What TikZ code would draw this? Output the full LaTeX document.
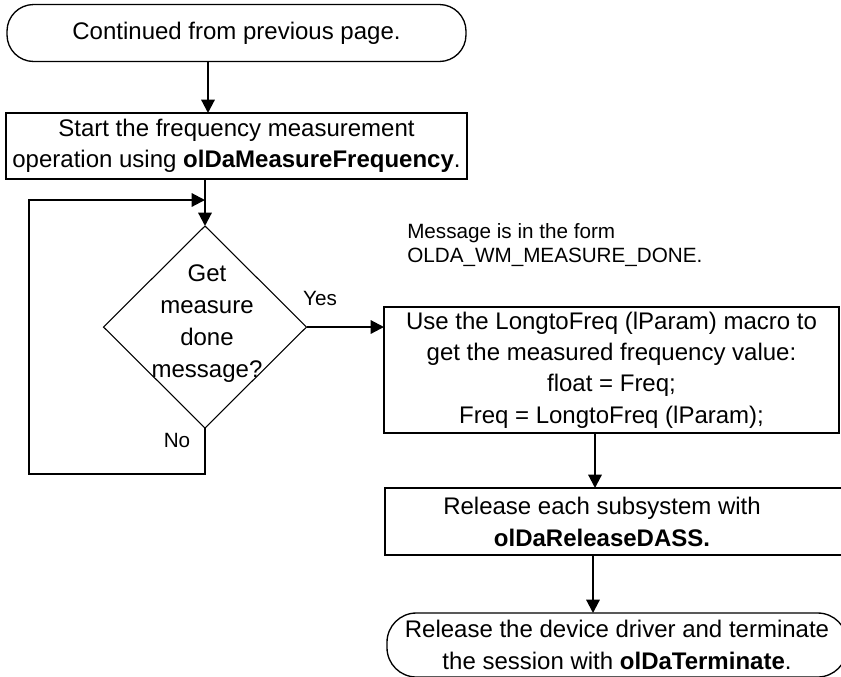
\documentclass[tikz,border=0pt]{standalone}
\usepackage{fontspec}
\setmainfont{Liberation Sans}
\usetikzlibrary{shapes.geometric,arrows.meta}
\begin{document}
\begin{tikzpicture}[x=0.75pt,y=-0.75pt,
  arr/.style={line width=1.6pt,-{Triangle[width=10pt,length=10pt]}},
  proc/.style={draw, line width=1.6pt, rectangle, inner sep=0pt, outer sep=0pt, align=center, font=\fontsize{18}{23.5}\selectfont},
  term/.style={draw, line width=1pt, rectangle, rounded corners=20pt, inner sep=0pt, outer sep=0pt, align=center, font=\fontsize{18}{24}\selectfont},
  dec/.style={draw, diamond, line width=0.8pt, inner sep=0pt, outer sep=0pt},
  txt/.style={inner sep=0pt, align=center, font=\fontsize{18}{24}\selectfont},
  lab/.style={inner sep=0pt, font=\fontsize{15.5}{18}\selectfont}]
\clip (0,0) rectangle (841,676);
\node[term, minimum width=344.25pt, minimum height=42.75pt] (t1) at (236.5,33) {Continued from previous page.};
\node[proc, minimum width=345.75pt, minimum height=49.5pt] (b2) at (236.5,146) {Start the frequency measurement\\operation using \textbf{olDaMeasureFrequency}.};
\node[dec, minimum width=152.25pt, minimum height=151.5pt] (d) at (205,327) {};
\node[txt] (dt) at (207,324) {Get\\measure\\done\\message?};
\node[proc, minimum width=341.25pt, minimum height=94.5pt] (b3) at (611.5,370) {Use the LongtoFreq (lParam) macro to\\get the measured frequency value:\\float = Freq;\\Freq = LongtoFreq (lParam);};
\node[proc, minimum width=355.5pt, minimum height=50.25pt] (b4) at (622,521.5) {};
\node[txt] (b4t) at (602,522) {Release each subsystem with\\\textbf{olDaReleaseDASS.}};
\node[term, rounded corners=22pt, minimum width=345pt, minimum height=48pt] (t2) at (617,645) {Release the device driver and terminate\\the session with \textbf{olDaTerminate}.};
\node[lab] (yes) at (320,298) {Yes};
\node[lab] (no) at (177,440) {No};
\node[lab, anchor=west, align=left] (msg) at (407,245) {Message is in the form\\OLDA\_WM\_MEASURE\_DONE.};
\coordinate (c1) at (208,0);
\draw[arr] (t1.south -| c1) -- (b2.north -| c1);
\draw[arr] (b2.south -| d.north) -- (d.north);
\coordinate (lb) at (29,474);
\coordinate (lt) at (29,200);
\draw[arr] (d.south) |- (lb) |- (d.north |- lt);
\draw[arr] (d.east) -- (d.east -| b3.west);
\coordinate (c3) at (595,0);
\draw[arr] (b3.south -| c3) -- (b4.north -| c3);
\coordinate (c4) at (593,0);
\draw[arr] (b4.south -| c4) -- (t2.north -| c4);
\end{tikzpicture}
\end{document}
